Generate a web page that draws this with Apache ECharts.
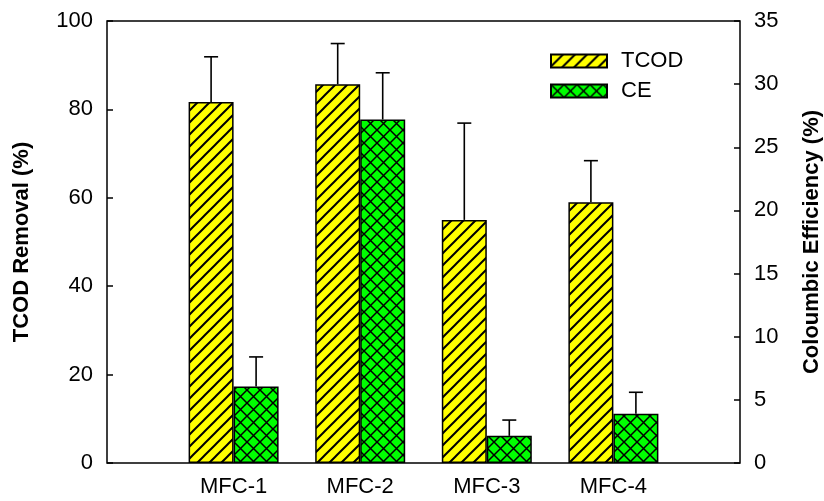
<!DOCTYPE html>
<html>
<head>
<meta charset="utf-8">
<script src="https://cdn.jsdelivr.net/npm/echarts@6/dist/echarts.min.js"></script>
<style>
  html, body { margin: 0; padding: 0; background: #fff; }
  #chart { width: 824px; height: 501px; }
</style>
</head>
<body>
<div id="chart"></div>
<script>
// Categories (blank ends give a margin of one slot on each side)
const categories = ['', 'MFC-1', 'MFC-2', 'MFC-3', 'MFC-4', ''];
// TCOD removal (%) and its standard deviation
const tcod = [null, 81.7, 85.7, 55.0, 59.0, null];
const tcodErr = [null, 10.2, 9.2, 21.9, 9.4, null];
// Coulombic efficiency (%) and its standard deviation
const ce = [null, 6.05, 27.2, 2.15, 3.9, null];
const ceErr = [null, 2.35, 3.7, 1.25, 1.7, null];

const leftTicks = { min: 0, max: 100, interval: 20 };
const rightTicks = { min: 0, max: 35, interval: 5 };

const BAR_W = 45;
const FONT = 'Liberation Sans, Arial, sans-serif';
const LABEL_SIZE = 22;
const TITLE_SIZE = 22;

function hatchPattern() {
  const s = 12;
  const c = document.createElement('canvas');
  c.width = s; c.height = s;
  const g = c.getContext('2d');
  g.fillStyle = '#ffff00';
  g.fillRect(0, 0, s, s);
  g.strokeStyle = '#000';
  g.lineWidth = 2;
  g.beginPath();
  g.moveTo(-2, s + 2); g.lineTo(s + 2, -2);
  g.moveTo(-2, 2); g.lineTo(2, -2);
  g.moveTo(s - 2, s + 2); g.lineTo(s + 2, s - 2);
  g.stroke();
  return c;
}

function crossPattern() {
  const s = 13;
  const c = document.createElement('canvas');
  c.width = s; c.height = s;
  const g = c.getContext('2d');
  g.fillStyle = '#00ff00';
  g.fillRect(0, 0, s, s);
  g.strokeStyle = '#000';
  g.lineWidth = 1.5;
  g.beginPath();
  g.moveTo(-1, s + 1); g.lineTo(s + 1, -1);
  g.moveTo(-1, -1); g.lineTo(s + 1, s + 1);
  g.stroke();
  return c;
}

const yellowFill = { image: hatchPattern(), repeat: 'repeat' };
const greenFill = { image: crossPattern(), repeat: 'repeat' };

function errorSeries(name, values, errors, yAxisIndex, offset) {
  return {
    name: name,
    type: 'custom',
    yAxisIndex: yAxisIndex,
    z: 1,
    silent: true,
    data: values.map((v, i) => (v == null ? [i, null, null] : [i, v, v + errors[i]])),
    encode: { x: 0, y: [1, 2] },
    renderItem: function (params, api) {
      const v = api.value(1);
      if (v == null || isNaN(v)) return null;
      const lo = api.coord([api.value(0), v]);
      const hi = api.coord([api.value(0), api.value(2)]);
      const x = lo[0] + offset;
      const cap = 7;
      const style = { stroke: '#000', lineWidth: 1.6 };
      return {
        type: 'group',
        children: [
          { type: 'line', shape: { x1: x, y1: lo[1], x2: x, y2: hi[1] }, style: style },
          { type: 'line', shape: { x1: x - cap, y1: hi[1], x2: x + cap, y2: hi[1] }, style: style }
        ]
      };
    }
  };
}

const chart = echarts.init(document.getElementById('chart'), null, { renderer: 'canvas' });
chart.setOption({
  animation: false,
  backgroundColor: '#fff',
  grid: {
    left: 107, right: 84, top: 21, bottom: 38,
    outerBoundsMode: 'none',
    containLabel: false,
    show: true, borderColor: '#000', borderWidth: 1.5, backgroundColor: 'transparent'
  },
  legend: {
    orient: 'vertical',
    left: 550, top: 50,
    padding: 0,
    itemGap: 8,
    itemWidth: 56, itemHeight: 13,
    icon: 'rect',
    data: ['TCOD', 'CE'],
    textStyle: { fontFamily: FONT, fontSize: LABEL_SIZE, color: '#000', padding: [0, 0, 0, 9] }
  },
  xAxis: {
    type: 'category',
    data: categories,
    boundaryGap: false,
    axisLine: { show: false },
    axisTick: { show: false },
    splitLine: { show: false },
    axisLabel: { fontFamily: FONT, fontSize: LABEL_SIZE, color: '#000', margin: 13, interval: 0 }
  },
  yAxis: [
    {
      type: 'value',
      min: leftTicks.min, max: leftTicks.max, interval: leftTicks.interval,
      name: 'TCOD Removal (%)',
      nameLocation: 'middle', nameGap: 74,
      nameTextStyle: { fontFamily: FONT, fontSize: TITLE_SIZE, fontWeight: 'bold', color: '#000' },
      axisLine: { show: false },
      axisTick: { show: true, inside: true, length: 6, lineStyle: { color: '#000', width: 1.5 } },
      splitLine: { show: false },
      axisLabel: { fontFamily: FONT, fontSize: LABEL_SIZE, color: '#000', margin: 14 }
    },
    {
      type: 'value',
      position: 'right',
      min: rightTicks.min, max: rightTicks.max, interval: rightTicks.interval,
      name: 'Coloumbic Efficiency (%)',
      nameLocation: 'middle', nameGap: 61, nameRotate: 90,
      nameTextStyle: { fontFamily: FONT, fontSize: TITLE_SIZE, fontWeight: 'bold', color: '#000' },
      axisLine: { show: false },
      axisTick: { show: true, inside: true, length: 6, lineStyle: { color: '#000', width: 1.5 } },
      splitLine: { show: false },
      axisLabel: { fontFamily: FONT, fontSize: LABEL_SIZE, color: '#000', margin: 14 }
    }
  ],
  series: [
    {
      name: 'TCOD', type: 'bar', yAxisIndex: 0, data: tcod,
      barWidth: BAR_W, barGap: '0%', z: 2,
      itemStyle: { color: yellowFill, borderColor: '#000', borderWidth: 1.5 }
    },
    {
      name: 'CE', type: 'bar', yAxisIndex: 1, data: ce,
      barWidth: BAR_W, barGap: '0%', z: 2,
      itemStyle: { color: greenFill, borderColor: '#000', borderWidth: 1.5 }
    },
    errorSeries('TCOD-err', tcod, tcodErr, 0, -BAR_W / 2),
    errorSeries('CE-err', ce, ceErr, 1, BAR_W / 2)
  ]
});
</script>
</body>
</html>
